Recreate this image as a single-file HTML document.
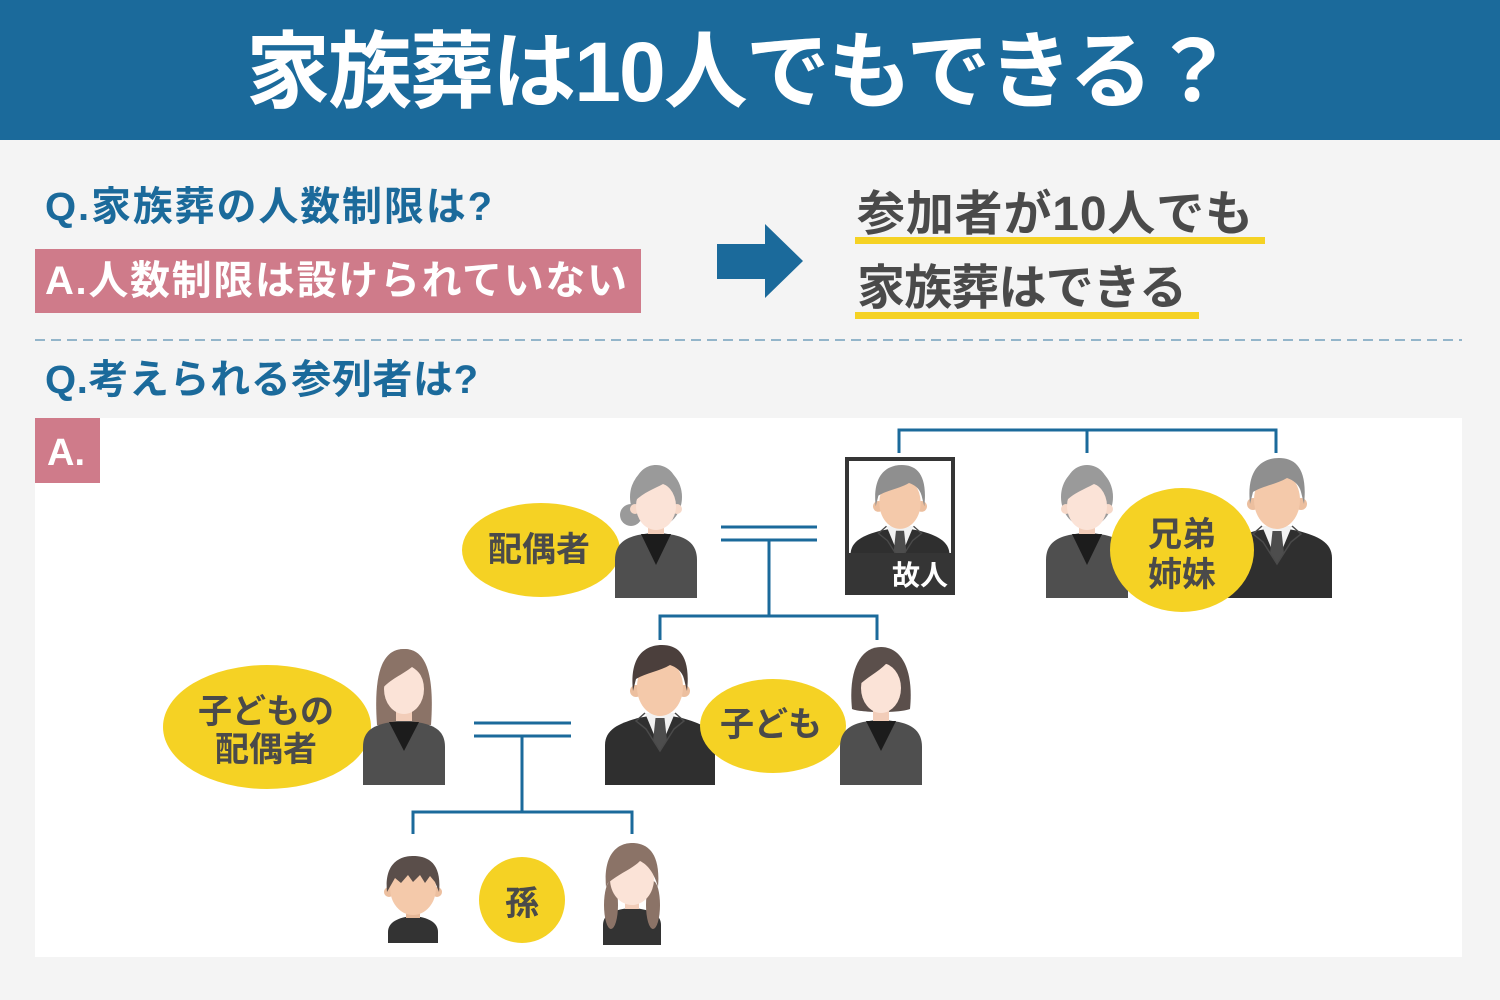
<!DOCTYPE html>
<html><head><meta charset="utf-8">
<style>
html,body{margin:0;padding:0;background:#f4f4f4;width:1500px;height:1000px;overflow:hidden;}
svg{display:block;}
text{font-family:"Liberation Sans","Noto Sans CJK JP",sans-serif;font-weight:700;}
</style></head><body>
<svg width="1500" height="1000" viewBox="0 0 1500 1000" xmlns="http://www.w3.org/2000/svg">
<defs>
 <g id="man">
  <path d="M-55,140 L-55,100 C-55,84 -40,78 -22,73 L0,69 L22,73 C40,78 55,84 55,100 L55,140 Z" fill="#2f2f2f"/>
  <rect x="-9" y="50" width="18" height="22" fill="#e3b594"/>
  <path d="M-15,68 L15,68 L0,104 Z" fill="#f2f2f2"/>
  <path d="M-4.5,73 L4.5,73 L7,96 L0,106 L-7,96 Z" fill="#4d4d4d"/>
  <path d="M-15,68 L-24,76 L-14,84 L0,106 L14,84 L24,76 L15,68" fill="none" stroke="#4a4a4a" stroke-width="1.5"/>
  <circle cx="-24" cy="46" r="6" fill="#ecbf9f"/>
  <circle cx="24" cy="46" r="6" fill="#ecbf9f"/>
  <ellipse cx="0" cy="42" rx="23" ry="29" fill="#f4c9aa"/>
  <path d="M-27,46 C-31,10 -14,0 2,0 C18,0 31,10 27,46 L24,34 C22,26 16,22 10,20 C0,26 -14,28 -24,34 Z" fill="currentColor"/>
 </g>
 <g id="woman">
  <path d="M-41,133 L-41,95 C-41,79 -31,73 -18,70 L0,67 L18,70 C31,73 41,79 41,95 L41,133 Z" fill="#4f4f4f"/>
  <rect x="-8" y="50" width="16" height="20" fill="#f2cdb9"/>
  <path d="M-15,69 L15,69 L0,100 Z" fill="#1c1c1c"/>
  <ellipse cx="0" cy="32" rx="26" ry="30" fill="currentColor"/>
  <circle cx="-21" cy="44" r="5" fill="#f6d8c8"/>
  <circle cx="21" cy="44" r="5" fill="#f6d8c8"/>
  <ellipse cx="0" cy="41" rx="20" ry="24" fill="#fbe3d7"/>
  <path d="M-23,38 C-25,10 -12,0 0,0 C12,0 25,10 23,38 C21,28 15,22 7,19 C-2,24 -14,28 -23,38 Z" fill="currentColor"/>
 </g>
 <clipPath id="fc"><rect x="849" y="461" width="102" height="130"/></clipPath>
</defs>

<rect width="1500" height="1000" fill="#f4f4f4"/>
<rect width="1500" height="140" fill="#1b6a9b"/>
<text x="246" y="101" font-size="84" fill="#fff" textLength="989" lengthAdjust="spacing">家族葬は10人でもできる？</text>

<text x="45" y="220" font-size="40" fill="#1b6a9b" textLength="447" lengthAdjust="spacing">Q.家族葬の人数制限は?</text>
<rect x="35" y="249" width="606" height="64" fill="#cf7b8a"/>
<text x="45" y="294" font-size="40" fill="#fff" textLength="582" lengthAdjust="spacing">A.人数制限は設けられていない</text>

<polygon points="717,244 765,244 765,224 803,261 765,298 765,279 717,279" fill="#1b6a9b"/>

<rect x="855" y="237" width="410" height="7" fill="#f5d224"/>
<rect x="855" y="312" width="344" height="7" fill="#f5d224"/>
<text x="857" y="230" font-size="48" fill="#4a4a4a" textLength="396" lengthAdjust="spacing">参加者が10人でも</text>
<text x="857" y="304" font-size="48" fill="#4a4a4a" textLength="330" lengthAdjust="spacing">家族葬はできる</text>

<line x1="35" y1="340" x2="1462" y2="340" stroke="#93b5ca" stroke-width="2" stroke-dasharray="10 6"/>

<text x="45" y="393" font-size="40" fill="#1b6a9b" textLength="433" lengthAdjust="spacing">Q.考えられる参列者は?</text>

<rect x="35" y="418" width="1427" height="539" fill="#ffffff"/>
<rect x="35" y="418" width="65" height="65" fill="#cf7b8a"/>
<text x="47" y="465" font-size="38" fill="#fff">A.</text>

<!-- tree lines -->
<g stroke="#1b6a9b" stroke-width="3" fill="none">
 <polyline points="899,453 899,430 1276,430 1276,453"/>
 <line x1="1087" y1="430" x2="1087" y2="453"/>
 <line x1="721" y1="527" x2="817" y2="527"/>
 <line x1="721" y1="540" x2="817" y2="540"/>
 <line x1="769" y1="540" x2="769" y2="616"/>
 <polyline points="660,640 660,616 877,616 877,640"/>
 <line x1="474" y1="723" x2="571" y2="723"/>
 <line x1="474" y1="736" x2="571" y2="736"/>
 <line x1="522" y1="736" x2="522" y2="812"/>
 <polyline points="413,834 413,812 632,812 632,834"/>
</g>

<!-- spouse -->
<ellipse cx="541" cy="550" rx="79" ry="47" fill="#f5d224"/>
<text x="539" y="561" font-size="34" fill="#4a4a4a" text-anchor="middle">配偶者</text>
<g transform="translate(656,465)" color="#9a9a9a">
 <circle cx="-25" cy="50" r="11" fill="#9a9a9a"/>
 <use href="#woman"/>
</g>

<!-- deceased frame -->
<rect x="845" y="457" width="110" height="138" fill="#353535"/>
<rect x="849" y="461" width="102" height="92" fill="#ffffff"/>
<g clip-path="url(#fc)">
 <g transform="translate(900,465) scale(0.9)" color="#8f8f8f"><use href="#man"/></g>
</g>
<rect x="849" y="553" width="102" height="38" fill="#353535"/>
<text x="920" y="585" font-size="28" fill="#fff" text-anchor="middle">故人</text>

<!-- siblings -->
<g transform="translate(1087,465)" color="#9a9a9a"><use href="#woman"/></g>
<g transform="translate(1277,458)" color="#8f8f8f"><use href="#man"/></g>
<ellipse cx="1182" cy="550" rx="72" ry="62" fill="#f5d224"/>
<text x="1182" y="546" font-size="34" fill="#4a4a4a" text-anchor="middle">兄弟</text>
<text x="1182" y="586" font-size="34" fill="#4a4a4a" text-anchor="middle">姉妹</text>

<!-- son -->
<g transform="translate(660,645)" color="#4b3f3c"><use href="#man"/></g>
<ellipse cx="773" cy="726" rx="73" ry="47" fill="#f5d224"/>
<text x="771" y="736" font-size="34" fill="#4a4a4a" text-anchor="middle">子ども</text>

<!-- daughter -->
<g transform="translate(881,647)">
 <path d="M-29,62 C-33,22 -20,0 0,0 C20,0 33,22 29,62 C20,66 -20,66 -29,62 Z" fill="#5b4f4b"/>
 <path d="M-41,138 L-41,100 C-41,84 -31,78 -18,75 L0,72 L18,75 C31,78 41,84 41,100 L41,138 Z" fill="#4f4f4f"/>
 <rect x="-8" y="54" width="16" height="20" fill="#f2cdb9"/>
 <path d="M-15,74 L15,74 L0,104 Z" fill="#1c1c1c"/>
 <ellipse cx="0" cy="41" rx="20" ry="25" fill="#fbe3d7"/>
 <path d="M-24,40 C-26,10 -12,2 0,2 C14,2 26,12 24,40 C20,28 14,20 6,16 C-4,26 -14,30 -24,40 Z" fill="#5b4f4b"/>
</g>

<!-- child's spouse -->
<ellipse cx="267" cy="727" rx="104" ry="62" fill="#f5d224"/>
<text x="266" y="723" font-size="34" fill="#4a4a4a" text-anchor="middle">子どもの</text>
<text x="266" y="761" font-size="34" fill="#4a4a4a" text-anchor="middle">配偶者</text>
<g transform="translate(404,649)">
 <path d="M-27,76 C-31,20 -20,0 0,0 C20,0 31,20 27,76 Z" fill="#8b7367"/>
 <path d="M-41,136 L-41,98 C-41,82 -31,77 -18,74 L0,71 L18,74 C31,77 41,82 41,98 L41,136 Z" fill="#4f4f4f"/>
 <rect x="-8" y="52" width="16" height="20" fill="#f2cdb9"/>
 <path d="M-15,73 L15,73 L0,102 Z" fill="#1c1c1c"/>
 <ellipse cx="0" cy="40" rx="20" ry="25" fill="#fbe3d7"/>
 <path d="M-24,42 C-26,10 -12,0 0,0 C14,0 26,10 24,42 C21,30 15,22 8,18 C-2,26 -14,30 -24,42 Z" fill="#8b7367"/>
</g>

<!-- grandson -->
<g transform="translate(413,856)">
 <path d="M-25,87 L-25,76 C-25,66 -14,61 0,60 C14,61 25,66 25,76 L25,87 Z" fill="#333"/>
 <rect x="-7" y="48" width="14" height="14" fill="#e6b898"/>
 <circle cx="-24" cy="36" r="5" fill="#ecbf9f"/>
 <circle cx="24" cy="36" r="5" fill="#ecbf9f"/>
 <ellipse cx="0" cy="32" rx="23" ry="27" fill="#f4c9aa"/>
 <path d="M-26,36 C-29,6 -12,0 0,0 C14,0 29,6 26,36 L22,26 L17,20 L12,27 L7,19 L0,26 L-5,19 L-12,27 L-18,22 Z" fill="#5a4e4a"/>
</g>
<circle cx="522" cy="900" r="43" fill="#f5d224"/>
<text x="522" y="915" font-size="34" fill="#4a4a4a" text-anchor="middle">孫</text>

<!-- granddaughter -->
<g transform="translate(632,843)">
 <path d="M-29,102 L-29,82 C-29,70 -16,66 0,65 C16,66 29,70 29,82 L29,102 Z" fill="#333"/>
 <ellipse cx="-21" cy="62" rx="7" ry="24" fill="#8b7367"/>
 <ellipse cx="21" cy="62" rx="7" ry="24" fill="#8b7367"/>
 <rect x="-7" y="52" width="14" height="14" fill="#f2cdb9"/>
 <ellipse cx="0" cy="36" rx="22" ry="26" fill="#fbe3d7"/>
 <path d="M-26,44 C-29,8 -12,0 0,0 C14,0 29,8 26,44 C22,30 16,22 8,18 C0,26 -12,30 -24,40 Z" fill="#8b7367"/>
</g>
</svg>
</body></html>
